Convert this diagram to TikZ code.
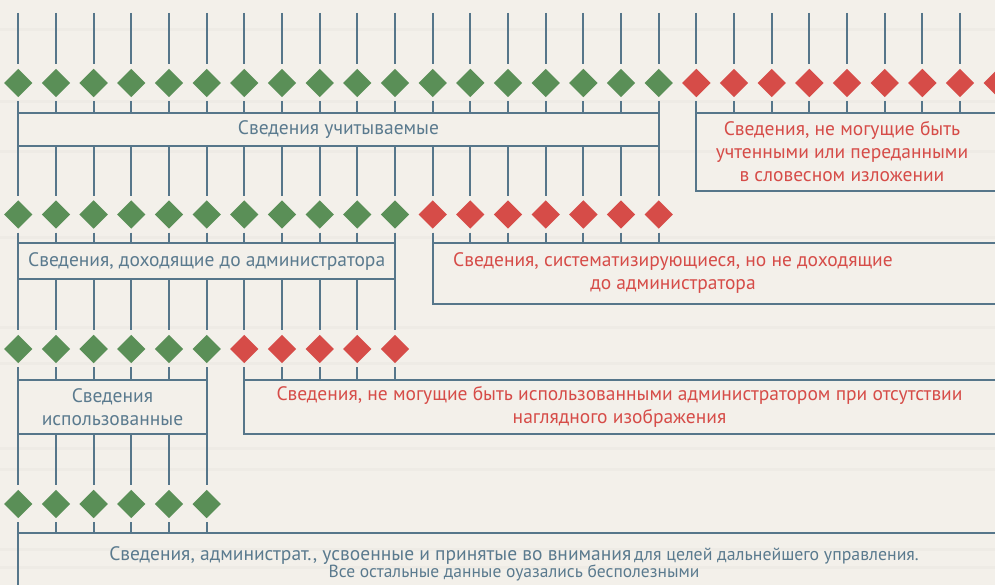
\documentclass[tikz,border=0pt]{standalone}
\usepackage{fontspec}
\setmainfont{PT Sans}
\usepackage{xcolor}
\usepackage{tikz}
\usetikzlibrary{shapes.geometric,calc}

\definecolor{lineblue}{HTML}{56768A}
\definecolor{okgreen}{HTML}{5A8F57}
\definecolor{badred}{HTML}{D64C48}
\definecolor{paper}{HTML}{F3F0EA}
\definecolor{stripe}{HTML}{E4E1DA}
\definecolor{txtblue}{HTML}{5A7A8E}

\begin{document}
\begin{tikzpicture}[x=1pt,y=-1pt,
 ln/.style={draw=lineblue,line width=2pt},
 fromd/.style={ln,shorten <=4pt},
 tod/.style={ln,shorten >=4.5pt},
 dm/.style={diamond,inner sep=0pt,minimum width=28.3pt,minimum height=28.3pt,outer sep=0pt},
 gd/.style={dm,fill=okgreen},
 rd/.style={dm,fill=badred},
 box/.style={ln,inner sep=0pt,outer sep=0pt,anchor=north west,align=center,text=txtblue,font=\fontsize{19.5}{23}\selectfont},
 rbox/.style={inner sep=0pt,outer sep=0pt,anchor=north west,align=center,text=badred,font=\fontsize{19.5}{23}\selectfont}]
 \fill[paper] (0,0) rectangle (995,585);
 \useasboundingbox (0,0) rectangle (995,585);
 \clip (0,0) rectangle (995,585);
 % faint paper stripes
 \foreach \y in {28,100,150,236,326,362,447,468,548,566} \fill[stripe,opacity=0.3] (0,\y) rectangle (995,\y+3);
 \coordinate (top) at (0,13);
 \coordinate (bot) at (0,590);
 \coordinate (rt) at (1010,0);
 % diamond rows
 \foreach \i in {0,...,17} \node[gd] (a\i) at ({18.3+37.67*\i},83) {};
 \foreach \i in {18,...,26} \node[rd] (a\i) at ({18.3+37.67*\i},83) {};
 \foreach \i in {0,...,10} \node[gd] (b\i) at ({18.3+37.67*\i},214.5) {};
 \foreach \i in {11,...,17} \node[rd] (b\i) at ({18.3+37.67*\i},214.5) {};
 \foreach \i in {0,...,5} \node[gd] (c\i) at ({18.3+37.67*\i},349) {};
 \foreach \i in {6,...,10} \node[rd] (c\i) at ({18.3+37.67*\i},349) {};
 \foreach \i in {0,...,5} \node[gd] (d\i) at ({18.3+37.67*\i},504) {};
 % boxes
 \node[box,minimum width=640.4pt,minimum height=33pt] (acc) at (a0.center|-0,113) {Сведения учитываемые};
 \node[rbox,minimum width=291.2pt,minimum height=78pt] (nacc) at (a18.center|-0,113) {Сведения, не могущие быть\\учтенными или переданными\\в словесном изложении};
 \node[box,minimum width=376.7pt,minimum height=35.5pt] (reach) at (b0.center|-0,243.5) {Сведения, доходящие до администратора};
 \node[rbox,minimum width=480.6pt,minimum height=60pt] (nreach) at (b11.center|-0,243.5) {Сведения, систематизирующиеся, но не доходящие\\до администратора};
 \node[box,minimum width=188.35pt,minimum height=54pt] (used) at (c0.center|-0,380) {Сведения\\использованные};
 \node[rbox,minimum width=750.4pt,minimum height=54pt] (nused) at (c6.center|-0,380) {Сведения, не могущие быть использованными администратором при отсутствии\\наглядного изображения};
 \coordinate (fin) at (d0.center|-0,533.3);
 \node[align=center,text=txtblue,inner sep=0pt] (fintxt) at (514,564) {{\fontsize{19.5}{20}\selectfont Сведения, администрат., усвоенные и принятые во внимания} {\fontsize{17.8}{20}\selectfont для целей дальнейшего управления.}\\{\fontsize{17.5}{20}\selectfont Все остальные данные оуазались бесполезными}};
 % open boxes
 \draw[ln] (nacc.north west-|rt) -- (nacc.north west) -- (nacc.south west) -- (nacc.south west-|rt);
 \draw[ln] (nreach.north west-|rt) -- (nreach.north west) -- (nreach.south west) -- (nreach.south west-|rt);
 \draw[ln] (nused.north west-|rt) -- (nused.north west) -- (nused.south west) -- (nused.south west-|rt);
 \draw[ln] (fin-|rt) -- (fin) -- (fin|-bot);
 % connectors
 \foreach \i in {0,...,26} \draw[tod] (a\i.north|-top) -- (a\i.north);
 \foreach \i in {0,...,17} {\draw[fromd] (a\i.south) -- (a\i.south|-acc.north); \draw[tod] (b\i.north|-acc.south) -- (b\i.north);}
 \foreach \i in {18,...,26} \draw[fromd] (a\i.south) -- (a\i.south|-nacc.north);
 \foreach \i in {0,...,10} {\draw[fromd] (b\i.south) -- (b\i.south|-reach.north); \draw[tod] (c\i.north|-reach.south) -- (c\i.north);}
 \foreach \i in {11,...,17} \draw[fromd] (b\i.south) -- (b\i.south|-nreach.north);
 \foreach \i in {0,...,5} {\draw[fromd] (c\i.south) -- (c\i.south|-used.north); \draw[tod] (d\i.north|-used.south) -- (d\i.north);}
 \foreach \i in {6,...,10} \draw[fromd] (c\i.south) -- (c\i.south|-nused.north);
 \foreach \i in {0,...,5} \draw[fromd] (d\i.south) -- (d\i.south|-fin);
\end{tikzpicture}
\end{document}
